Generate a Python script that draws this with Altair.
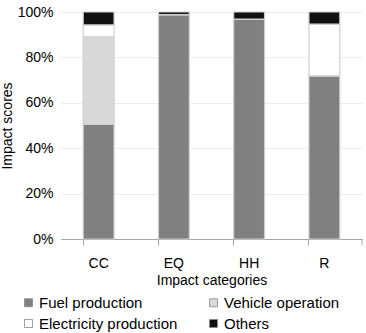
import altair as alt
import pandas as pd

# Impact shares (%) per category and life-cycle stage
categories = ["CC", "EQ", "HH", "R"]
stages = ["Fuel production", "Vehicle operation", "Electricity production", "Others"]
fuel_production = [50.5, 98.8, 96.9, 71.9]
vehicle_operation = [38.6, 0.0, 0.0, 0.0]
electricity_production = [5.2, 0.0, 0.0, 22.8]
others = [5.7, 1.2, 3.1, 5.3]
stage_colors = {"Fuel production": "#808080", "Vehicle operation": "#d9d9d9",
                "Electricity production": "#ffffff", "Others": "#111111"}

# legend grid is filled column by column: list entries so rows read
# "Fuel production | Vehicle operation" / "Electricity production | Others"
legend_order = ["Fuel production", "Electricity production", "Vehicle operation", "Others"]

rows = []
for series, stage in zip([fuel_production, vehicle_operation, electricity_production, others], stages):
    for cat, v in zip(categories, series):
        rows.append({"category": cat, "stage": stage, "share": v / 100.0,
                     "order": stages.index(stage)})
df = pd.DataFrame(rows)

FONT = "Liberation Sans"

bars = alt.Chart(df).mark_bar(stroke="#d0d0d0", strokeWidth=1.2).encode(
    x=alt.X("category:N", sort=categories, title="Impact categories",
            scale=alt.Scale(paddingInner=0.59, paddingOuter=0.295),
            axis=alt.Axis(labelAngle=0, bandPosition=0, tickSize=6, ticks=True,
                          domainColor="#a6a6a6", tickColor="#a6a6a6",
                          labelColor="#000", titleColor="#000",
                          labelFontSize=14, titleFontSize=14, labelFont=FONT,
                          titleFont=FONT, titleFontWeight="normal",
                          labelPadding=11, titlePadding=3, grid=False)),
    y=alt.Y("share:Q", stack="zero", title="Impact scores",
            scale=alt.Scale(domain=[0, 1]),
            axis=alt.Axis(format=".0%", values=[0, 0.2, 0.4, 0.6, 0.8, 1.0],
                          domain=False, ticks=False, gridColor="#ececec",
                          labelColor="#000", titleColor="#000",
                          labelFontSize=14, titleFontSize=14, labelFont=FONT,
                          titleFont=FONT, titleFontWeight="normal",
                          labelPadding=8, titlePadding=3)),
    color=alt.Color("stage:N",
                    scale=alt.Scale(domain=legend_order,
                                    range=[stage_colors[s] for s in legend_order]),
                    legend=alt.Legend(title=None, orient="none", legendX=-40, legendY=283,
                                      columns=2, columnPadding=28, rowPadding=5,
                                      symbolType="square", symbolSize=64,
                                      symbolStrokeColor="#888", symbolStrokeWidth=0.8,
                                      labelFontSize=15, labelFont=FONT, labelColor="#000",
                                      labelOffset=3)),
    order=alt.Order("order:Q", sort="ascending"),
)

# closing tick at the right end of the category axis
end_tick = alt.Chart(pd.DataFrame({"t": [0]})).mark_rule(color="#a6a6a6").encode(
    x=alt.value(301), y=alt.value(227), y2=alt.value(233)
)

chart = alt.layer(bars, end_tick).properties(
    width=301, height=227,
    padding={"left": 61, "top": 12, "right": 4, "bottom": 94},
    autosize=alt.AutoSizeParams(type="none"),
).configure_view(stroke=None)

chart.save("out.html", embed_options={"renderer": "svg", "actions": False})
